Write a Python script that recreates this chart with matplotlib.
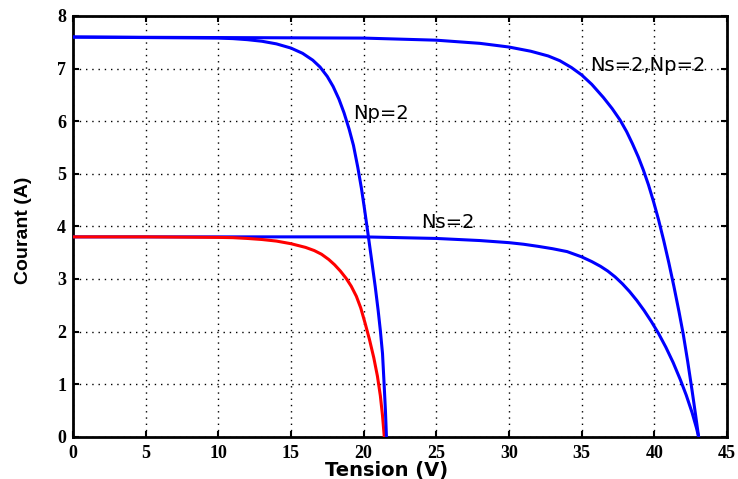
import matplotlib
matplotlib.use('Agg')
import matplotlib.pyplot as plt

# single module (red) and the three associations (blue), I-V points in (V, A)
v_cell = [0, 5, 10, 11, 12, 13, 14, 15, 16, 16.6, 17.1, 17.6, 18.0, 18.4, 18.8, 19.15, 19.5, 19.8,
          20.1, 20.4, 20.7, 20.95, 21.15, 21.3, 21.42]
i_cell = [3.80, 3.80, 3.79, 3.785, 3.77, 3.75, 3.72, 3.67, 3.60, 3.54, 3.47, 3.37, 3.27, 3.15, 3.01, 2.86,
          2.67, 2.45, 2.16, 1.85, 1.50, 1.15, 0.78, 0.40, 0.0]

v_np2 = [0, 10, 11, 12, 13, 14, 15, 15.8, 16.5, 17.0, 17.5, 17.9, 18.3, 18.65, 19.0, 19.3, 19.6, 19.85,
         20.05, 20.3, 20.55, 20.8, 21.0, 21.15, 21.3, 21.4, 21.5, 21.57]
i_np2 = [7.60, 7.58, 7.57, 7.55, 7.52, 7.47, 7.39, 7.29, 7.16, 7.03, 6.85, 6.66, 6.42, 6.16, 5.85, 5.54,
         5.12, 4.72, 4.35, 3.86, 3.36, 2.85, 2.40, 2.02, 1.58, 1.05, 0.50, 0.0]

v_ns2 = [0, 20, 25, 28, 30, 31, 32, 33, 34, 35, 35.7, 36.3, 36.8, 37.3, 37.8, 38.3, 38.8, 39.3, 39.8,
         40.3, 40.8, 41.3, 41.8, 42.2, 42.6, 42.9, 43.05]
i_ns2 = [3.80, 3.80, 3.77, 3.73, 3.69, 3.66, 3.62, 3.575, 3.52, 3.42, 3.33, 3.24, 3.15, 3.04, 2.91, 2.76,
         2.59, 2.40, 2.19, 1.96, 1.70, 1.41, 1.08, 0.79, 0.46, 0.17, 0.0]

v_ns2np2 = [0, 20, 25, 28, 30, 31.5, 32.7, 33.5, 34.3, 35.0, 35.7, 36.5, 37.1, 37.65, 38.1, 38.5, 38.9,
            39.25, 39.6, 39.95, 40.3, 40.65, 41.0, 41.35, 41.7, 42.0, 42.3, 42.6, 42.85, 43.05]
i_ns2np2 = [7.60, 7.58, 7.54, 7.48, 7.41, 7.33, 7.24, 7.15, 7.02, 6.88, 6.70, 6.45, 6.24, 6.02, 5.80, 5.57,
            5.32, 5.07, 4.79, 4.47, 4.12, 3.73, 3.31, 2.86, 2.38, 1.94, 1.43, 0.88, 0.40, 0.0]

x_ticks = [0, 5, 10, 15, 20, 25, 30, 35, 40, 45]
y_ticks = [0, 1, 2, 3, 4, 5, 6, 7, 8]

fig = plt.figure(figsize=(7.38, 4.79), dpi=100)
ax = fig.add_axes([0.0989, 0.0883, 0.8861, 0.8783])

lw = 2.2
ax.plot(v_ns2, i_ns2, color='#0000ff', lw=lw, zorder=3)
ax.plot(v_cell, i_cell, color='#ff0000', lw=lw, zorder=4)
ax.plot(v_np2, i_np2, color='#0000ff', lw=lw, zorder=5)
ax.plot(v_ns2np2, i_ns2np2, color='#0000ff', lw=lw, zorder=5)

ax.text(19.27, 6.15, 'Np=2', fontsize=14, family='DejaVu Sans', ha='left', va='center', zorder=6)
ax.text(23.95, 4.08, 'Ns=2', fontsize=14, family='DejaVu Sans', ha='left', va='center', zorder=6)
ax.text(35.58, 7.05, 'Ns=2,Np=2', fontsize=14, family='DejaVu Sans', ha='left', va='center', zorder=6)

ax.set_xlim(0, 45)
ax.set_ylim(0, 8)
ax.set_xticks(x_ticks)
ax.set_yticks(y_ticks)
ax.grid(True, color='black', linestyle=(0, (1, 3.5)), linewidth=1.0)

for s in ax.spines.values():
    s.set_linewidth(2)
ax.tick_params(direction='in', top=True, right=True, length=4, width=1.5)
ax.tick_params(axis='x', pad=6)
ax.tick_params(axis='y', pad=5)
for lab in ax.get_xticklabels() + ax.get_yticklabels():
    lab.set_fontfamily('Liberation Serif')
    lab.set_fontweight('bold')
    lab.set_fontsize(13)

ax.set_xlabel('Tension (V)', fontsize=14, family='DejaVu Sans', fontweight='bold')
ax.set_ylabel('Courant (A)', fontsize=14, family='Liberation Sans', fontweight='bold')
ax.xaxis.set_label_coords(0.48, -0.058)
ax.yaxis.set_label_coords(-0.062, 0.49)

fig.savefig('out.png', dpi=100)
